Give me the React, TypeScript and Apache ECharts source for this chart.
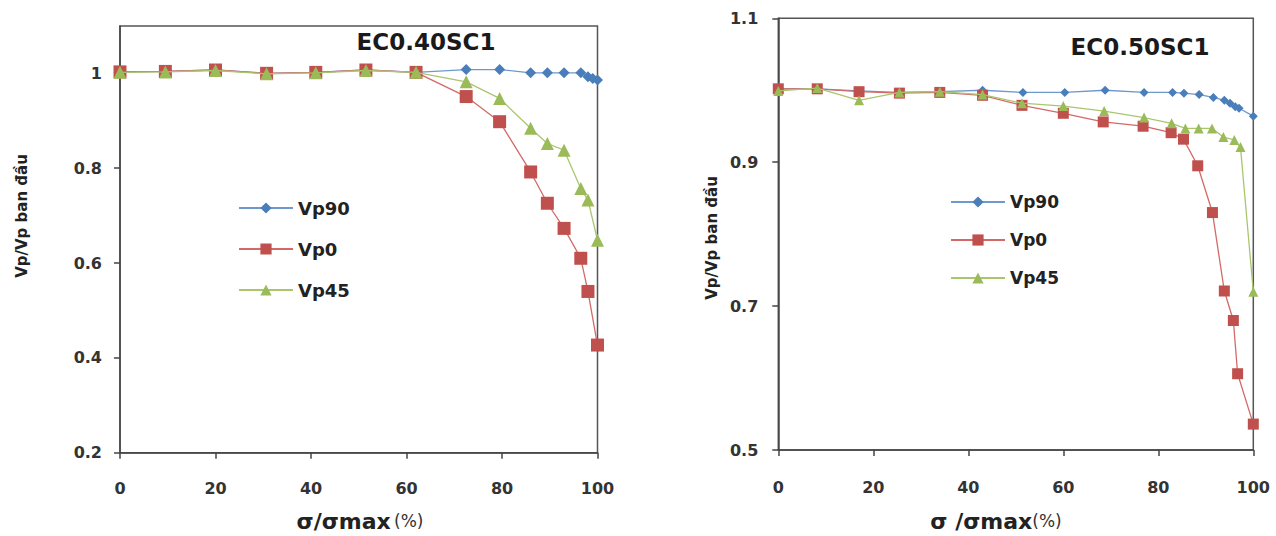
import React, { useEffect, useRef } from "react";
import * as echarts from "echarts";

const seriesNames = ["Vp90", "Vp0", "Vp45"];
const leftTitle = "EC0.40SC1";
const rightTitle = "EC0.50SC1";
const xTicks = [0, 20, 40, 60, 80, 100];
const leftYTicks = [0.2, 0.4, 0.6, 0.8, 1];
const rightYTicks = [0.5, 0.7, 0.9, 1.1];

// Left chart: EC0.40SC1
const leftVp90X = [0, 9.5, 20, 30.7, 41, 51.5, 62, 72.5, 79.5, 86, 89.5, 93, 96.5, 98, 99, 100];
const leftVp90Y = [1.003, 1.004, 1.007, 1.0, 1.002, 1.007, 1.002, 1.008, 1.008, 1.001, 1.001, 1.001, 1.001, 0.993, 0.989, 0.986];
const leftVp0X = [0, 9.5, 20, 30.7, 41, 51.5, 62, 72.5, 79.5, 86, 89.5, 93, 96.5, 98, 100];
const leftVp0Y = [1.003, 1.004, 1.007, 1.0, 1.002, 1.007, 1.002, 0.951, 0.898, 0.792, 0.726, 0.673, 0.61, 0.54, 0.427];
const leftVp45X = [0, 9.5, 20, 30.7, 41, 51.5, 62, 72.5, 79.5, 86, 89.5, 93, 96.5, 98, 100];
const leftVp45Y = [1.002, 1.003, 1.006, 0.999, 1.001, 1.006, 1.002, 0.982, 0.947, 0.884, 0.852, 0.838, 0.757, 0.733, 0.648];

// Right chart: EC0.50SC1
const rightVp90X = [0, 8.2, 17, 25.5, 34, 43, 51.5, 60.3, 68.8, 77, 83, 85.4, 88.6, 91.6, 93.9, 95.1, 96.2, 97, 100];
const rightVp90Y = [1.002, 1.002, 0.999, 0.997, 0.998, 1.0, 0.997, 0.997, 1.0, 0.997, 0.997, 0.996, 0.994, 0.99, 0.986, 0.982, 0.977, 0.975, 0.964];
const rightVp0X = [0, 8.2, 17, 25.5, 34, 43, 51.3, 60, 68.4, 76.8, 82.7, 85.3, 88.3, 91.4, 93.9, 95.8, 96.7, 100];
const rightVp0Y = [1.002, 1.002, 0.998, 0.996, 0.997, 0.993, 0.979, 0.968, 0.956, 0.95, 0.941, 0.932, 0.895, 0.83, 0.721, 0.68, 0.606, 0.536];
const rightVp45X = [0, 8.2, 17, 25.5, 34, 43, 51.3, 60, 68.6, 77, 82.8, 85.7, 88.5, 91.3, 93.7, 96, 97.3, 100];
const rightVp45Y = [0.999, 1.003, 0.986, 0.997, 0.998, 0.994, 0.982, 0.978, 0.971, 0.962, 0.954, 0.947, 0.947, 0.947, 0.935, 0.931, 0.921, 0.72];

const FONT = "'DejaVu Sans', Verdana, sans-serif";
const BLUE = "#4a7ebb";
const RED = "#c0504d";
const GREEN = "#9bbb59";

const pairs = (xs: number[], ys: number[]) => xs.map((x, i) => [x, ys[i]]);

function makeSeries(gi: number, big: boolean) {
  const data = gi === 0
    ? [pairs(leftVp90X, leftVp90Y), pairs(leftVp0X, leftVp0Y), pairs(leftVp45X, leftVp45Y)]
    : [pairs(rightVp90X, rightVp90Y), pairs(rightVp0X, rightVp0Y), pairs(rightVp45X, rightVp45Y)];
  const symbols = ["diamond", "rect", "triangle"];
  const colors = [BLUE, RED, GREEN];
  const lineColors = ["#6f98cc", "#d26a67", "#a9c66f"];
  const sizes = big ? [11, 13, 13] : [9, 11, 10];
  return data.map((d, i) => ({
    name: seriesNames[i],
    type: "line",
    xAxisIndex: gi,
    yAxisIndex: gi,
    data: d,
    symbol: symbols[i],
    symbolSize: sizes[i],
    showAllSymbol: true,
    lineStyle: { color: lineColors[i], width: 1.3 },
    itemStyle: { color: colors[i] },
    emphasis: { disabled: true },
    z: 2 + i,
  }));
}

const axisCommon = {
  axisLine: { show: true, onZero: false, lineStyle: { color: "#444", width: 1.5 } },
  axisTick: { show: true, length: 6, lineStyle: { color: "#444", width: 1.5 } },
  splitLine: { show: false },
};

const labelStyle = { fontFamily: FONT, fontWeight: "bold", fontSize: 16, color: "#333" };

const xNameRich = {
  a: { fontFamily: FONT, fontWeight: "bold", fontSize: 22, fill: "#222", color: "#222" },
  b: { fontFamily: FONT, fontWeight: "normal", fontSize: 17, fill: "#333", color: "#333" },
};

export default function App() {
  const ref = useRef<HTMLDivElement>(null);
  useEffect(() => {
    if (!ref.current) return;
    const chart = echarts.init(ref.current, undefined, { renderer: "svg" });
    const legendCommon = {
      orient: "vertical",
      data: seriesNames,
      itemWidth: 54,
      itemHeight: 14,
      padding: 0,
      selectedMode: false,
      textStyle: { fontFamily: FONT, fontWeight: "bold", fontSize: 18, color: "#222", lineHeight: 18 },
    };
    chart.setOption({
      animation: false,
      backgroundColor: "#fff",
      grid: [
        { left: 120, right: 678.5, top: 25.9, bottom: 83.3, show: true, borderColor: "#555", borderWidth: 1.5, backgroundColor: "#fff" },
        { left: 778.3, right: 22.7, top: 18.3, bottom: 86, show: true, borderColor: "#555", borderWidth: 1.5, backgroundColor: "#fff" },
      ],
      xAxis: [0, 1].map((gi) => ({
        gridIndex: gi,
        type: "value",
        min: 0,
        max: 100,
        interval: 20,
        ...axisCommon,
        axisLabel: { ...labelStyle, margin: gi === 0 ? 28 : 29, customValues: xTicks },
      })),
      yAxis: [
        {
          gridIndex: 0, type: "value", min: 0.2, max: 1.1,
          ...axisCommon,
          axisTick: { ...axisCommon.axisTick, customValues: leftYTicks },
          axisLabel: { ...labelStyle, margin: 18, customValues: leftYTicks },
        },
        {
          gridIndex: 1, type: "value", min: 0.5, max: 1.1,
          ...axisCommon,
          axisTick: { ...axisCommon.axisTick, customValues: rightYTicks },
          axisLabel: { ...labelStyle, margin: 20, customValues: rightYTicks },
        },
      ],
      legend: [
        { ...legendCommon, left: 238, top: 199, itemGap: 23 },
        { ...legendCommon, left: 950, top: 193, itemGap: 20, textStyle: { ...legendCommon.textStyle, fontSize: 17 } },
      ],
      graphic: [
        { type: "text", x: 426, y: 42, style: { text: leftTitle, font: `bold 23px ${FONT}`, fill: "#1a1a1a", align: "center", verticalAlign: "middle" } },
        { type: "text", x: 1140, y: 47, style: { text: rightTitle, font: `bold 23px ${FONT}`, fill: "#1a1a1a", align: "center", verticalAlign: "middle" } },
        {
          type: "text", x: 22, y: 216, rotation: Math.PI / 2,
          style: { text: "Vp/Vp ban đầu", font: `bold 15px ${FONT}`, fill: "#222", align: "center", verticalAlign: "middle" },
        },
        {
          type: "text", x: 712, y: 238, rotation: Math.PI / 2,
          style: { text: "Vp/Vp ban đầu", font: `bold 15px ${FONT}`, fill: "#222", align: "center", verticalAlign: "middle" },
        },
        {
          type: "text", x: 360, y: 521,
          style: { text: "{a|σ/σmax} {b|(%)}", align: "center", verticalAlign: "middle", rich: xNameRich },
        },
        {
          type: "text", x: 996, y: 521,
          style: { text: "{a|σ /σmax}{b|(%)}", align: "center", verticalAlign: "middle", rich: xNameRich },
        },
      ],
      series: [...makeSeries(0, true), ...makeSeries(1, false)],
    });
    return () => chart.dispose();
  }, []);
  return (
    <div
      ref={ref}
      style={{ position: "fixed", left: 0, top: 0, width: 1276, height: 536, background: "#fff" }}
    />
  );
}
